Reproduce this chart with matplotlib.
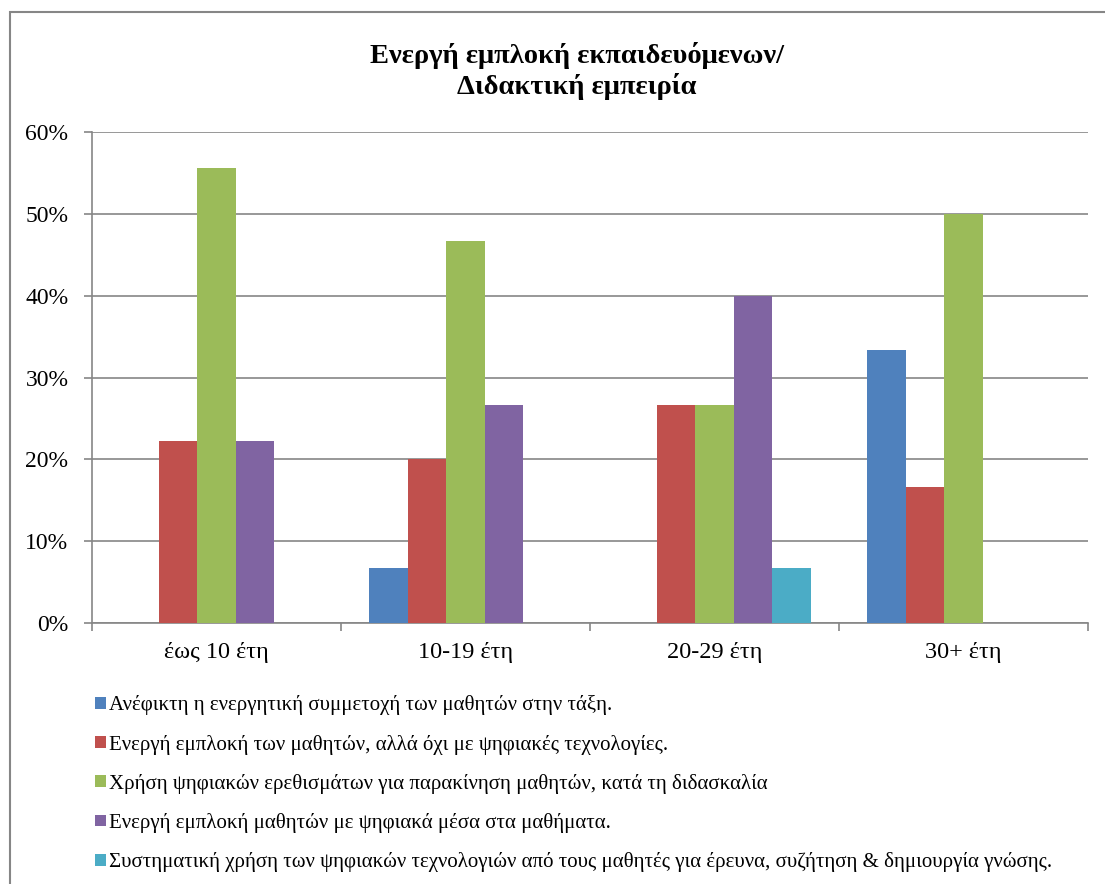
import matplotlib.pyplot as plt
import numpy as np
from matplotlib.patches import Rectangle
from matplotlib.ticker import PercentFormatter

# teaching experience groups
categories = ['έως 10 έτη', '10-19 έτη', '20-29 έτη', '30+ έτη']

series_labels = [
    'Ανέφικτη η ενεργητική συμμετοχή των μαθητών στην τάξη.',
    'Ενεργή εμπλοκή των μαθητών, αλλά όχι με ψηφιακές τεχνολογίες.',
    'Χρήση ψηφιακών ερεθισμάτων για παρακίνηση μαθητών, κατά τη διδασκαλία',
    'Ενεργή εμπλοκή μαθητών με ψηφιακά μέσα στα μαθήματα.',
    'Συστηματική χρήση των ψηφιακών τεχνολογιών από τους μαθητές για έρευνα, συζήτηση & δημιουργία γνώσης.',
]

# percentages per experience group
unattainable = [0.0, 6.67, 0.0, 33.33]
active_no_digital = [22.22, 20.0, 26.67, 16.67]
digital_stimuli = [55.56, 46.67, 26.67, 50.0]
active_digital = [22.22, 26.67, 40.0, 0.0]
systematic_use = [0.0, 0.0, 6.67, 0.0]

colors = ['#4F81BD', '#C0504D', '#9BBB59', '#8064A2', '#4BACC6']

plt.rcParams['font.family'] = ['Liberation Serif', 'DejaVu Serif']

fig = plt.figure(figsize=(11.05, 8.84), dpi=100)
ax = fig.add_axes([92/1105, 1-623/884, 996/1105, 491/884])

# outer chart frame
fig.patches.append(Rectangle((10/1105, -0.1), 1.2, 1-12/884+0.1, transform=fig.transFigure,
                             fill=False, edgecolor='#868686', linewidth=1.5))

x = np.arange(len(categories))
width = 0.155
all_series = [unattainable, active_no_digital, digital_stimuli, active_digital, systematic_use]
for i, vals in enumerate(all_series):
    ax.bar(x + (i - 2) * width, vals, width, color=colors[i], label=series_labels[i], zorder=3)

ax.set_xlim(-0.5, 3.5)
ax.set_ylim(0, 60)
ax.set_yticks(np.arange(0, 61, 10))
ax.yaxis.set_major_formatter(PercentFormatter(decimals=0))
ax.grid(axis='y', color='#868686', linewidth=1.2, zorder=0)

ax.set_xticks(x)
ax.set_xticklabels(categories)
ax.set_xticks(np.arange(-0.5, 4, 1), minor=True)
ax.tick_params(axis='x', which='major', length=0, labelsize=17.5, pad=14)
ax.tick_params(axis='x', which='minor', length=6, color='#868686', width=1.2)
ax.tick_params(axis='y', length=6, color='#868686', width=1.2, labelsize=17, pad=11)

for s in ['top', 'right']:
    ax.spines[s].set_visible(False)
for s in ['left', 'bottom']:
    ax.spines[s].set_color('#868686')
    ax.spines[s].set_linewidth(1.2)

fig.text(0.522, 1-71/884, 'Ενεργή εμπλοκή εκπαιδευόμενων/\nΔιδακτική εμπειρία',
         ha='center', va='center', fontsize=20.5, fontweight='bold', linespacing=1.15)

fig.legend(loc='upper left', bbox_to_anchor=(85/1105, 1-685/884), frameon=False,
           fontsize=15, handlelength=0.5, handleheight=0.5, handletextpad=0.15,
           labelspacing=0.92, borderpad=0)

fig.savefig('out.png', dpi=100)
